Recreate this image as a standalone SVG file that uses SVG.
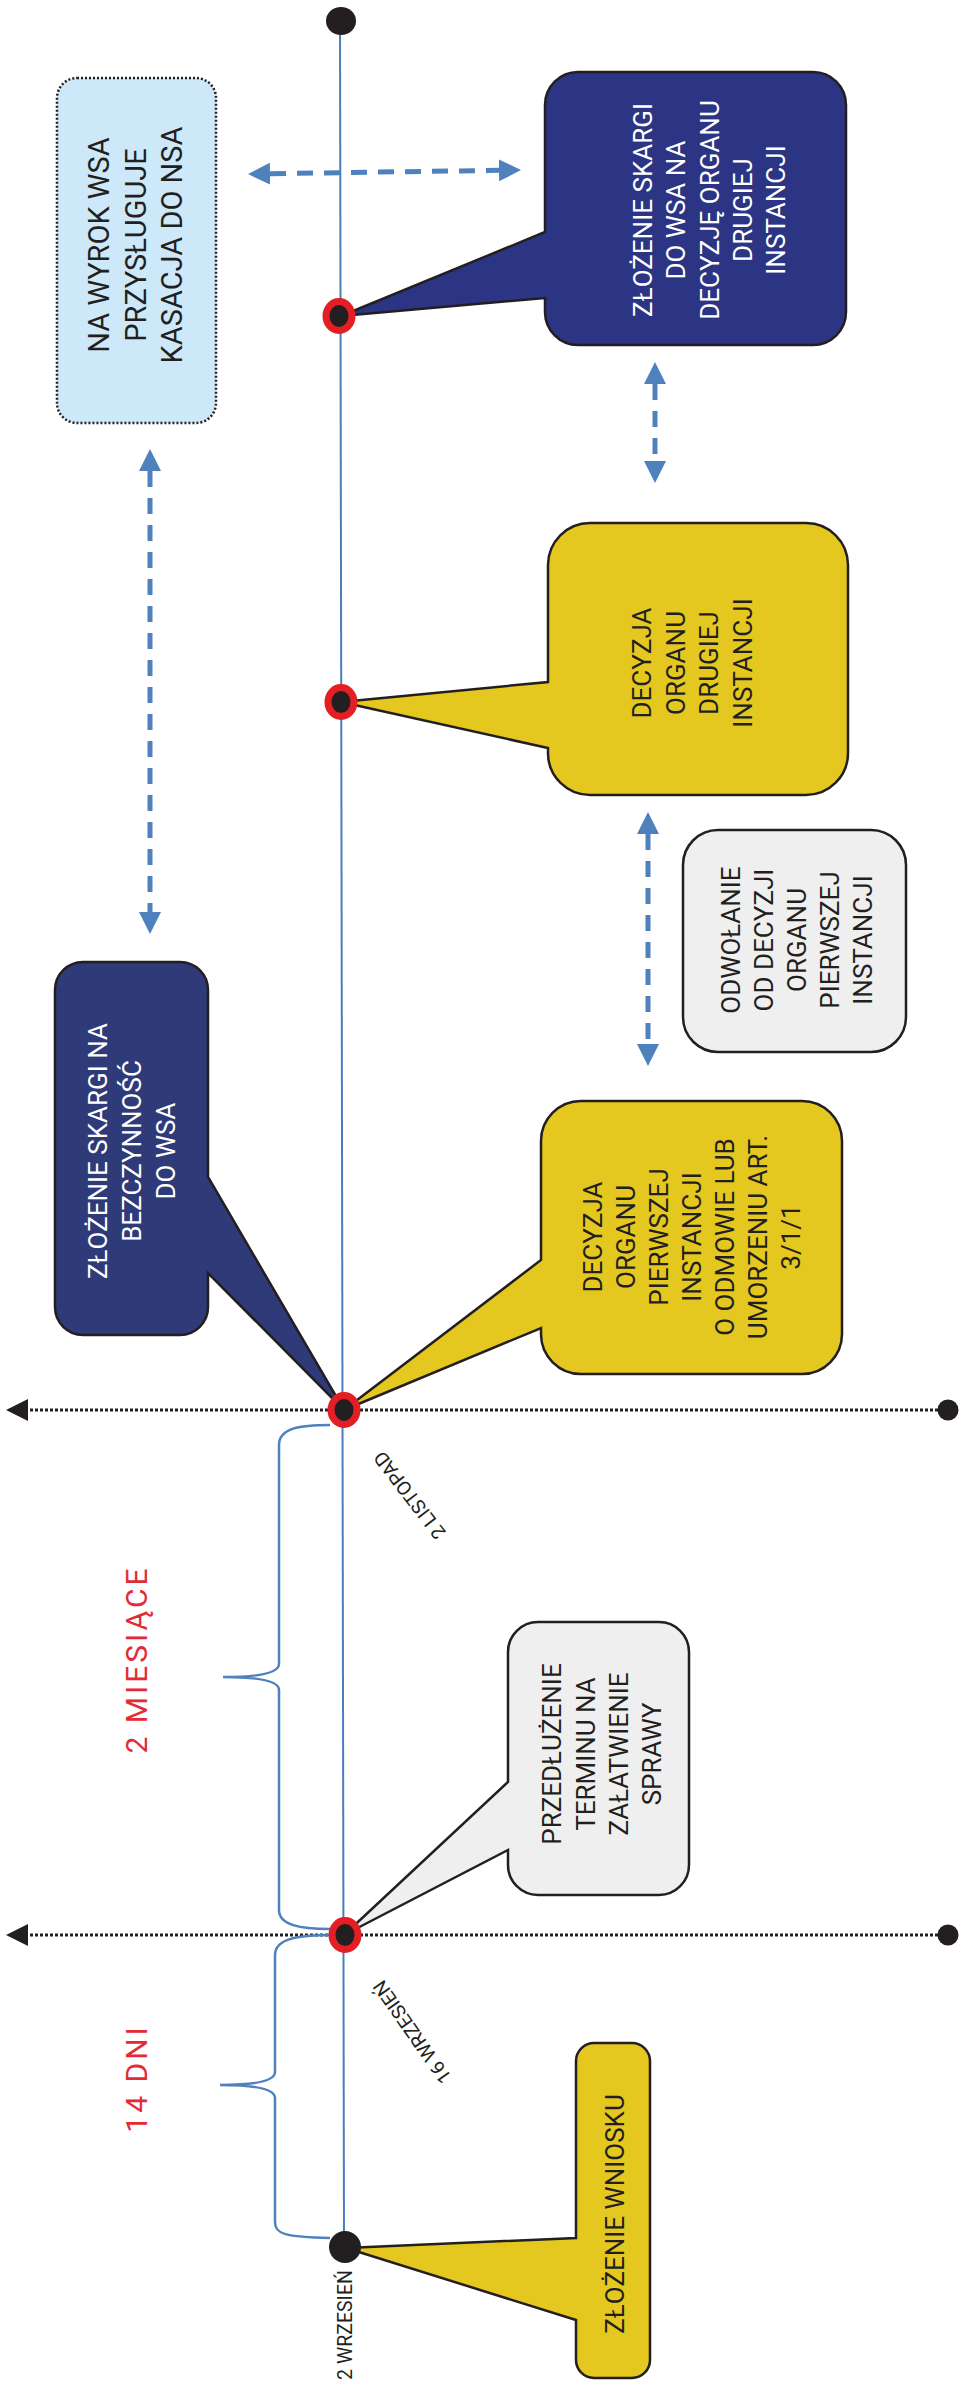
<svg xmlns="http://www.w3.org/2000/svg" width="960" height="2390" viewBox="0 0 960 2390">
<style>
.tl{stroke:#4a7ebb;stroke-width:2;fill:none}
.br{stroke:#4f81bd;stroke-width:2.5;fill:none}
.da{stroke:#4f81bd;stroke-width:5;stroke-dasharray:16 11;fill:none}
.dl{stroke:#231f20;stroke-width:3;stroke-dasharray:3 2;fill:none}
.bx{stroke:#231f20;stroke-width:2.5}
.t{font-family:Roboto,"Liberation Sans",sans-serif;font-size:26px;text-anchor:middle;fill:#231f20}
.w{fill:#ffffff}
.rd{fill:#231f20;stroke:#e31e24;stroke-width:7}
.red{font-family:Roboto,"Liberation Sans",sans-serif;font-size:30px;letter-spacing:3px;text-anchor:middle;fill:#e32b36}
.dt{font-family:Roboto,"Liberation Sans",sans-serif;font-size:19.5px;text-anchor:middle;fill:#231f20}
</style>
<defs>
<marker id="ah" markerUnits="userSpaceOnUse" markerWidth="22" markerHeight="22" viewBox="0 0 22 22" refX="0" refY="11" orient="auto-start-reverse">
<path d="M0,0 L22,11 L0,22 Z" fill="#4f81bd"/>
</marker>
<marker id="bh" markerUnits="userSpaceOnUse" markerWidth="22" markerHeight="22" viewBox="0 0 22 22" refX="0" refY="11" orient="auto">
<path d="M0,0 L22,11 L0,22 Z" fill="#231f20"/>
</marker>
</defs>
<rect width="960" height="2390" fill="#ffffff"/>

<g id="connectors">
<path class="tl" d="M340,21 L344,2247"/>
<path class="dl" d="M938,1410 L28,1410" marker-end="url(#bh)"/>
<path class="dl" d="M938,1935 L28,1935" marker-end="url(#bh)"/>
<ellipse cx="948" cy="1410" rx="10.5" ry="10.5" fill="#231f20"/>
<ellipse cx="948" cy="1935" rx="10.5" ry="10.5" fill="#231f20"/>
<path class="da" d="M270,173.7 L499,170.3" marker-start="url(#ah)" marker-end="url(#ah)"/>
<path class="da" d="M655,384 L655,461" marker-start="url(#ah)" marker-end="url(#ah)"/>
<path class="da" d="M150,471 L150,912" marker-start="url(#ah)" marker-end="url(#ah)"/>
<path class="da" d="M648,834 L648,1044" marker-start="url(#ah)" marker-end="url(#ah)"/>
<path class="br" d="M330,1425 C300,1425 279,1428 279,1445 L279,1664 Q279,1677 223,1677 Q279,1677 279,1690 L279,1910 C279,1925 300,1929 330,1929"/>
<path class="br" d="M332,1935 C300,1935 275,1938 275,1955 L275,2072 Q275,2085 220,2085 Q275,2085 275,2098 L275,2222 C275,2234 285,2237 330,2238"/>
</g>

<g id="kasacja">
<rect x="57" y="78" width="159" height="345" rx="20" fill="#cde8f8" stroke="#231f20" stroke-width="2.5" stroke-dasharray="2 2"/>
<text class="t" style="font-size:29px" transform="translate(0,245) rotate(-90)"><tspan x="0" y="109">NA WYROK WSA</tspan><tspan x="0" y="145.5">PRZYSŁUGUJE</tspan><tspan x="0" y="182">KASACJA DO NSA</tspan></text>
</g>

<g id="skarga-decyzja">
<path class="bx" fill="#2b3584" d="M578,72 H813 A33,33 0 0 1 846,105 V312 A33,33 0 0 1 813,345 H578 A33,33 0 0 1 545,312 V298 L341,316 L545,232 V105 A33,33 0 0 1 578,72 Z"/>
<text class="t w" transform="translate(0,210) rotate(-90)"><tspan x="0" y="652">ZŁOŻENIE SKARGI</tspan><tspan x="0" y="685.3">DO WSA NA</tspan><tspan x="0" y="718.6">DECYZJĘ ORGANU</tspan><tspan x="0" y="752">DRUGIEJ</tspan><tspan x="0" y="785.3">INSTANCJI</tspan></text>
</g>

<g id="decyzja-druga">
<path class="bx" fill="#e4c71f" d="M590,523 H806 A42,42 0 0 1 848,565 V753 A42,42 0 0 1 806,795 H590 A42,42 0 0 1 548,753 V748 L341,702 L548,682 V565 A42,42 0 0 1 590,523 Z"/>
<text class="t" transform="translate(0,663) rotate(-90)"><tspan x="0" y="651">DECYZJA</tspan><tspan x="0" y="684.5">ORGANU</tspan><tspan x="0" y="718">DRUGIEJ</tspan><tspan x="0" y="751.5">INSTANCJI</tspan></text>
</g>

<g id="odwolanie">
<rect class="bx" x="683" y="830" width="223" height="222" rx="35" fill="#efefef"/>
<text class="t" transform="translate(0,940) rotate(-90)"><tspan x="0" y="740">ODWOŁANIE</tspan><tspan x="0" y="773">OD DECYZJI</tspan><tspan x="0" y="806">ORGANU</tspan><tspan x="0" y="839">PIERWSZEJ</tspan><tspan x="0" y="872">INSTANCJI</tspan></text>
</g>

<g id="skarga-bezczynnosc">
<path class="bx" fill="#2e3b78" d="M83,962 H180 A28,28 0 0 1 208,990 V1177 L344,1410 L208,1273 V1307 A28,28 0 0 1 180,1335 H83 A28,28 0 0 1 55,1307 V990 A28,28 0 0 1 83,962 Z"/>
<text class="t w" transform="translate(0,1151) rotate(-90)"><tspan x="0" y="107">ZŁOŻENIE SKARGI NA</tspan><tspan x="0" y="141">BEZCZYNNOŚĆ</tspan><tspan x="0" y="175">DO WSA</tspan></text>
</g>

<g id="decyzja-pierwsza">
<path class="bx" fill="#e4c71f" d="M581,1101 H802 A40,40 0 0 1 842,1141 V1334 A40,40 0 0 1 802,1374 H581 A40,40 0 0 1 541,1334 V1328 L344,1410 L541,1260 V1141 A40,40 0 0 1 581,1101 Z"/>
<text class="t" transform="translate(0,1237) rotate(-90)"><tspan x="0" y="602">DECYZJA</tspan><tspan x="0" y="635">ORGANU</tspan><tspan x="0" y="668">PIERWSZEJ</tspan><tspan x="0" y="701">INSTANCJI</tspan><tspan x="0" y="734">O ODMOWIE LUB</tspan><tspan x="0" y="767">UMORZENIU ART.</tspan><tspan x="0" y="800">3/1/1</tspan></text>
</g>

<g id="przedluzenie">
<path class="bx" fill="#efefef" d="M538,1622 H659 A30,30 0 0 1 689,1652 V1865 A30,30 0 0 1 659,1895 H538 A30,30 0 0 1 508,1865 V1850 L344,1935 L508,1782 V1652 A30,30 0 0 1 538,1622 Z"/>
<text class="t" transform="translate(0,1754) rotate(-90)"><tspan x="0" y="561">PRZEDŁUŻENIE</tspan><tspan x="0" y="594.5">TERMINU NA</tspan><tspan x="0" y="628">ZAŁATWIENIE</tspan><tspan x="0" y="661">SPRAWY</tspan></text>
</g>

<g id="wniosek">
<path class="bx" fill="#e4c71f" d="M594,2043 H632 A18,18 0 0 1 650,2061 V2360 A18,18 0 0 1 632,2378 H594 A18,18 0 0 1 576,2360 V2320 L346,2248 L576,2238 V2061 A18,18 0 0 1 594,2043 Z"/>
<text class="t" transform="translate(0,2214) rotate(-90)"><tspan x="0" y="623.5">ZŁOŻENIE WNIOSKU</tspan></text>
</g>

<g id="points">
<ellipse cx="341" cy="21" rx="15" ry="14" fill="#231f20"/>
<ellipse class="rd" cx="339" cy="316" rx="13" ry="14.5"/>
<ellipse class="rd" cx="341" cy="702" rx="13" ry="14.5"/>
<ellipse class="rd" cx="344" cy="1410" rx="13" ry="14.5"/>
<ellipse class="rd" cx="345" cy="1935" rx="13" ry="14.5"/>
<circle cx="345" cy="2247" r="16" fill="#231f20"/>
</g>

<g id="labels">
<text class="red" transform="translate(0,1661) rotate(-90)"><tspan x="1.5" y="147">2 MIESIĄCE</tspan></text>
<text class="red" transform="translate(0,2080) rotate(-90)"><tspan x="1.5" y="147">14 DNI</tspan></text>
<text class="dt" transform="translate(415,1491) rotate(-127.5)">2 LISTOPAD</text>
<text class="dt" transform="translate(418,2028) rotate(-125)">16 WRZESIEŃ</text>
<text class="dt" transform="translate(0,2325) rotate(-90)"><tspan x="0" y="352">2 WRZESIEŃ</tspan></text>
</g>
</svg>
